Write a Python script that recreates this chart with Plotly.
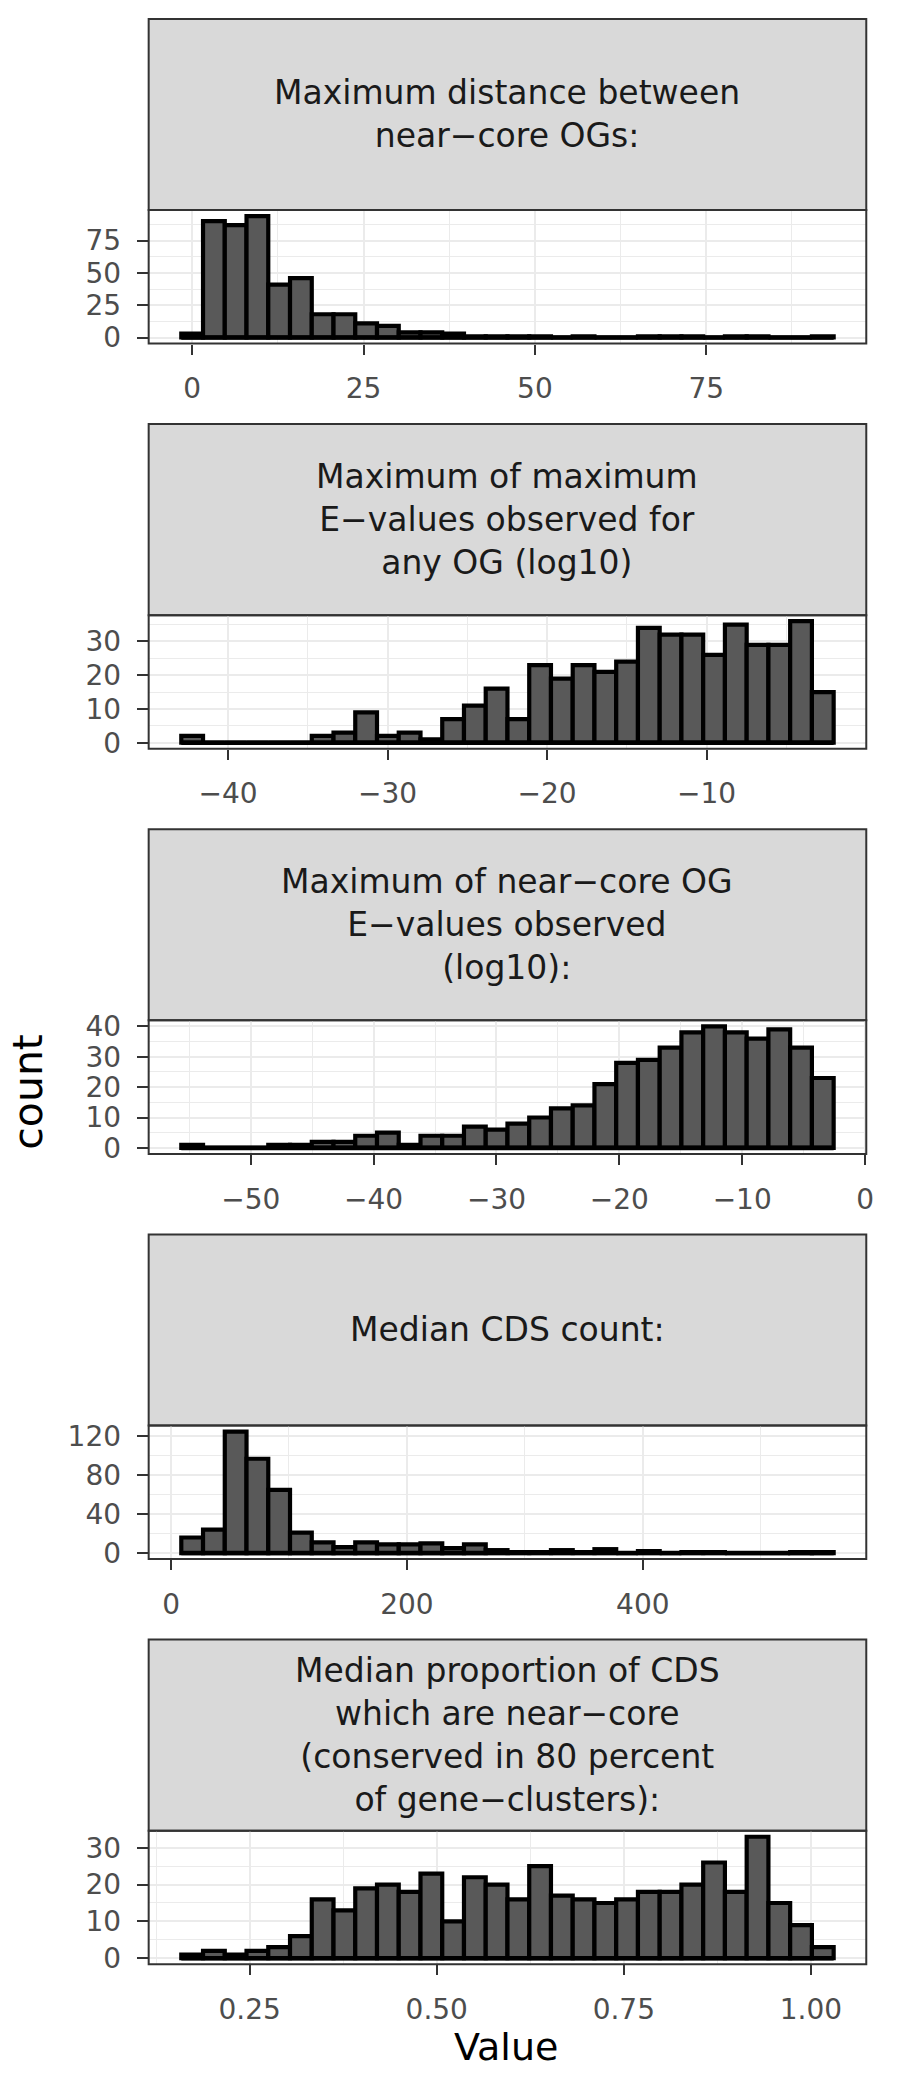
import numpy as np
import plotly.graph_objects as go

# ---- data: 30-bin histograms, one per metric ----
panel_titles = [
    "Maximum distance between<br>near−core OGs:",
    "Maximum of maximum<br>E−values observed for<br>any OG (log10)",
    "Maximum of near−core OG<br>E−values observed<br>(log10):",
    "Median CDS count:",
    "Median proportion of CDS<br>which are near−core<br>(conserved in 80 percent<br>of gene−clusters):",
]

# first and last bin centres (data minimum / maximum) for each metric
dist_span = (0.0, 92.0)
evalue_any_span = (-42.25, -2.72)
evalue_core_span = (-54.77, -3.44)
cds_count_span = (17.9, 552.6)
core_prop_span = (0.1731, 1.0159)

dist_counts = [3, 90, 87, 94, 41, 46, 18, 18, 11, 9, 4, 4, 3, 1, 1,
               1, 1, 0, 1, 0, 0, 1, 1, 1, 0, 1, 1, 0, 0, 1]
evalue_any_counts = [2, 0, 0, 0, 0, 0, 2, 3, 9, 2, 3, 1, 7, 11, 16,
                     7, 23, 19, 23, 21, 24, 34, 32, 32, 26, 35, 29, 29, 36, 15]
evalue_core_counts = [1, 0, 0, 0, 1, 1, 2, 2, 4, 5, 1, 4, 4, 7, 6,
                      8, 10, 13, 14, 21, 28, 29, 33, 38, 40, 38, 36, 39, 33, 23]
cds_count_counts = [16, 24, 125, 97, 65, 21, 11, 6, 11, 9, 9, 10, 5, 9, 3,
                    1, 1, 3, 1, 4, 0, 2, 0, 1, 1, 0, 0, 0, 1, 1]
core_prop_counts = [1, 2, 1, 2, 3, 6, 16, 13, 19, 20, 18, 23, 10, 22, 20,
                    16, 25, 17, 16, 15, 16, 18, 18, 20, 26, 18, 33, 15, 9, 3]

# axis tick values
x_ticks = [
    [0, 25, 50, 75],
    [-40, -30, -20, -10],
    [-50, -40, -30, -20, -10, 0],
    [0, 200, 400],
    [0.25, 0.50, 0.75, 1.00],
]
y_ticks = [
    [0, 25, 50, 75],
    [0, 10, 20, 30],
    [0, 10, 20, 30, 40],
    [0, 40, 80, 120],
    [0, 10, 20, 30],
]
x_label_fmt = ["{:g}", "{:g}", "{:g}", "{:g}", "{:.2f}"]

spans = [dist_span, evalue_any_span, evalue_core_span, cds_count_span, core_prop_span]
counts = [dist_counts, evalue_any_counts, evalue_core_counts, cds_count_counts, core_prop_counts]

# ---- layout geometry (pixels) ----
W, H = 905, 2083
LEFT, RIGHT = 150, 874
STRIP_TOP0 = 9
PERIOD = 409.3
STRIP_H = 193
PANEL_H = 135

FILL = "#595959"
EDGE = "#000000"
GRID = "#EBEBEB"
FRAME = "#333333"
FONT = "DejaVu Sans, Liberation Sans, sans-serif"
TICK_SIZE = 28
STRIP_SIZE = 33


def px_x(v):
    return v / W


def px_y(v):
    return 1 - v / H


def fmt(v, f):
    return f.format(v).replace("-", "−")


fig = go.Figure()
shapes = []
annotations = []

for i in range(5):
    lo, hi = spans[i]
    n = len(counts[i])
    bw = (hi - lo) / (n - 1)
    centres = lo + bw * np.arange(n)
    left_edge, right_edge = lo - bw / 2, hi + bw / 2
    c = np.array(counts[i], dtype=float)

    xr_pad = 0.05 * (right_edge - left_edge)
    yr_pad = 0.05 * c.max()
    ax = "" if i == 0 else str(i + 1)

    fig.add_trace(go.Bar(
        x=centres, y=c, width=bw,
        marker=dict(color=FILL, line=dict(color=EDGE, width=4.2)),
        xaxis="x" + ax, yaxis="y" + ax, showlegend=False,
    ))
    # bottom outline of the histogram (also covers empty bins)
    fig.add_trace(go.Scatter(
        x=[left_edge, right_edge], y=[0, 0], mode="lines",
        line=dict(color=EDGE, width=4.6),
        xaxis="x" + ax, yaxis="y" + ax, showlegend=False, hoverinfo="skip",
    ))

    strip_top = STRIP_TOP0 + PERIOD * i
    strip_bot = strip_top + STRIP_H
    panel_bot = strip_bot + PANEL_H

    xt = x_ticks[i]
    xstep = xt[1] - xt[0]
    x_minor = [v + xstep / 2 for v in [xt[0] - xstep] + xt]
    yt = y_ticks[i]
    ystep = yt[1] - yt[0]
    y_minor = [v + ystep / 2 for v in [yt[0] - ystep] + yt]

    fig.update_layout({
        "xaxis" + ax: dict(
            domain=[px_x(LEFT), px_x(RIGHT)],
            anchor="y" + ax,
            range=[left_edge - xr_pad, right_edge + xr_pad],
            tickmode="array", tickvals=xt,
            ticktext=[fmt(v, x_label_fmt[i]) for v in xt],
            ticks="outside", ticklen=10, tickwidth=2.4, tickcolor=FRAME,
            tickfont=dict(size=TICK_SIZE, color="#4D4D4D", family=FONT),
            ticklabelstandoff=10,
            showgrid=True, gridcolor=GRID, gridwidth=2.2,
            minor=dict(tickmode="array", tickvals=x_minor, showgrid=True,
                       gridcolor=GRID, gridwidth=1.1, ticks=""),
            zeroline=False, showline=False,
        ),
        "yaxis" + ax: dict(
            domain=[px_y(panel_bot), px_y(strip_bot)],
            anchor="x" + ax,
            range=[-yr_pad, c.max() + yr_pad],
            tickmode="array", tickvals=yt,
            ticktext=[fmt(v, "{:g}") for v in yt],
            ticks="outside", ticklen=11, tickwidth=2.4, tickcolor=FRAME,
            tickfont=dict(size=TICK_SIZE, color="#4D4D4D", family=FONT),
            ticklabelstandoff=10,
            showgrid=True, gridcolor=GRID, gridwidth=2.2,
            minor=dict(tickmode="array", tickvals=y_minor, showgrid=True,
                       gridcolor=GRID, gridwidth=1.1, ticks=""),
            zeroline=False, showline=False,
        ),
    })

    # strip
    shapes.append(dict(
        type="rect", xref="paper", yref="paper",
        x0=px_x(LEFT), x1=px_x(RIGHT), y0=px_y(strip_bot), y1=px_y(strip_top),
        fillcolor="#D9D9D9", line=dict(color=FRAME, width=2), layer="below",
    ))
    # panel frame
    shapes.append(dict(
        type="rect", xref="paper", yref="paper",
        x0=px_x(LEFT), x1=px_x(RIGHT), y0=px_y(panel_bot), y1=px_y(strip_bot),
        fillcolor="rgba(0,0,0,0)", line=dict(color=FRAME, width=2), layer="above",
    ))
    annotations.append(dict(
        text=panel_titles[i], xref="paper", yref="paper",
        x=px_x((LEFT + RIGHT) / 2), y=px_y((strip_top + strip_bot) / 2),
        xanchor="center", yanchor="middle", showarrow=False, align="center",
        font=dict(size=STRIP_SIZE, color="#1A1A1A", family=FONT),
    ))

annotations.append(dict(
    text="count", xref="paper", yref="paper", x=px_x(28), y=px_y(1093),
    xanchor="center", yanchor="middle", showarrow=False, textangle=-90,
    font=dict(size=41, color="#000000", family=FONT),
))
annotations.append(dict(
    text="Value", xref="paper", yref="paper", x=px_x(511), y=px_y(2058),
    xanchor="center", yanchor="middle", showarrow=False,
    font=dict(size=38, color="#000000", family=FONT),
))

fig.update_layout(
    width=W, height=H,
    margin=dict(l=0, r=0, t=0, b=0),
    paper_bgcolor="white", plot_bgcolor="white",
    barmode="overlay",
    shapes=shapes, annotations=annotations,
    font=dict(family=FONT),
)

fig.write_html("out.html")
